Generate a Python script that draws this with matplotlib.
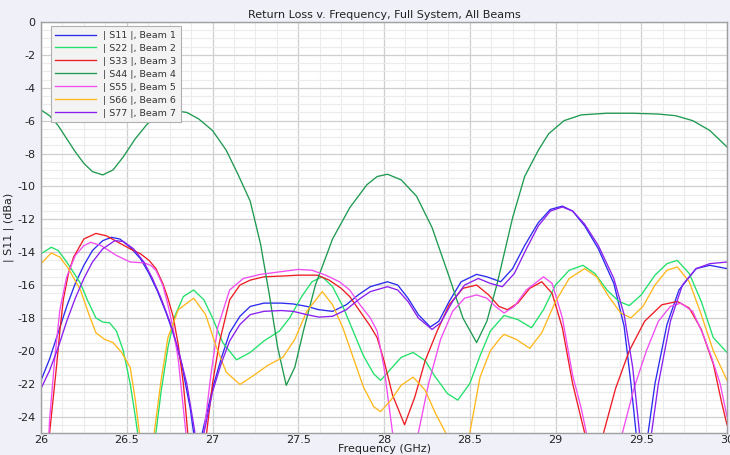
import matplotlib
matplotlib.use("Agg")
import matplotlib.pyplot as plt
from matplotlib.ticker import MultipleLocator

plt.rcParams["axes.unicode_minus"] = False

# |Snn| return loss per beam, frequency in GHz, level in dB
f_s11 = [26.00, 26.05, 26.10, 26.15, 26.20, 26.25, 26.30, 26.36, 26.41, 26.46, 26.52, 26.58, 26.63, 26.68,
         26.73, 26.77, 26.82, 26.87, 26.91, 26.94, 27.00, 27.05, 27.10, 27.16, 27.22, 27.30, 27.40, 27.47,
         27.55, 27.62, 27.70, 27.78, 27.85, 27.92, 28.02, 28.08, 28.14, 28.20, 28.27, 28.32, 28.38, 28.45,
         28.54, 28.60, 28.68, 28.75, 28.82, 28.90, 28.97, 29.04, 29.10, 29.17, 29.25, 29.34, 29.40, 29.44,
         29.47, 29.50, 29.54, 29.58, 29.65, 29.72, 29.82, 29.90, 30.00]
s11 = [-21.8, -20.5, -18.9, -17.3, -15.9, -14.8, -13.9, -13.3, -13.1, -13.2, -13.7, -14.4, -15.3, -16.4,
       -17.7, -18.9, -20.8, -23.5, -26.5, -25.0, -22.3, -20.5, -18.9, -17.9, -17.3, -17.1, -17.1, -17.15,
       -17.3, -17.5, -17.6, -17.2, -16.6, -16.1, -15.8, -16.0, -16.8, -17.8, -18.55, -18.2, -17.0, -15.8,
       -15.35, -15.5, -15.8, -15.0, -13.6, -12.2, -11.4, -11.2, -11.5, -12.4, -13.8, -15.9, -18.5, -22.0,
       -25.0, -26.5, -25.0, -22.0, -18.4, -16.3, -15.0, -14.8, -15.0]

f_s22 = [26.00, 26.06, 26.10, 26.15, 26.20, 26.23, 26.27, 26.32, 26.36, 26.40, 26.44, 26.48, 26.52, 26.55,
         26.57, 26.62, 26.67, 26.70, 26.74, 26.78, 26.83, 26.89, 26.95, 27.00, 27.06, 27.14, 27.22, 27.30,
         27.39, 27.45, 27.52, 27.58, 27.64, 27.70, 27.76, 27.82, 27.88, 27.94, 27.98, 28.04, 28.10, 28.17,
         28.24, 28.30, 28.37, 28.43, 28.50, 28.56, 28.62, 28.70, 28.78, 28.86, 28.93, 29.00, 29.08, 29.16,
         29.23, 29.30, 29.37, 29.43, 29.50, 29.58, 29.65, 29.71, 29.78, 29.85, 29.92, 30.00]
s22 = [-14.1, -13.7, -13.9, -14.6, -15.4, -15.9, -16.9, -18.0, -18.25, -18.3, -18.8, -20.0, -22.0, -24.0,
       -25.5, -27.0, -25.0, -22.5, -19.8, -17.9, -16.7, -16.3, -16.9, -18.0, -19.5, -20.55, -20.1, -19.4,
       -18.8, -18.0, -16.7, -15.8, -15.5, -16.1, -17.3, -18.8, -20.3, -21.4, -21.8, -21.1, -20.4, -20.1,
       -20.6, -21.6, -22.6, -23.0, -22.0, -20.3, -18.8, -17.85, -18.1, -18.6, -17.5, -16.0, -15.1, -14.8,
       -15.3, -16.3, -17.0, -17.25, -16.6, -15.4, -14.7, -14.5, -15.3, -17.0, -19.2, -20.1]

f_s33 = [26.00, 26.03, 26.05, 26.07, 26.09, 26.11, 26.13, 26.16, 26.19, 26.25, 26.32, 26.38, 26.45, 26.52,
         26.58, 26.63, 26.67, 26.71, 26.74, 26.77, 26.80, 26.83, 26.86, 26.91, 26.96, 27.00, 27.04, 27.10,
         27.16, 27.22, 27.30, 27.41, 27.50, 27.61, 27.68, 27.75, 27.80, 27.86, 27.92, 27.96, 28.00, 28.05,
         28.12, 28.18, 28.24, 28.31, 28.38, 28.46, 28.54, 28.61, 28.67, 28.72, 28.78, 28.85, 28.92, 28.98,
         29.04, 29.10, 29.17, 29.22, 29.28, 29.35, 29.43, 29.52, 29.62, 29.71, 29.78, 29.85, 29.92, 29.97,
         30.00]
s33 = [-30.0, -27.0, -25.0, -23.0, -21.0, -18.8, -16.9, -15.3, -14.3, -13.2, -12.86, -13.0, -13.4, -13.8,
       -14.1, -14.5, -15.0, -15.9, -16.8, -17.9, -19.6, -22.0, -25.5, -27.5, -25.5, -22.0, -19.5, -16.9,
       -16.0, -15.7, -15.5, -15.45, -15.4, -15.4, -15.7, -16.2, -16.7, -17.6, -18.5, -19.2, -20.6, -22.7,
       -24.5, -22.8, -20.6, -18.8, -17.2, -16.2, -16.0, -16.6, -17.3, -17.5, -17.1, -16.2, -15.8, -16.5,
       -18.6, -22.0, -25.0, -26.5, -25.0, -22.3, -20.0, -18.2, -17.2, -17.0, -17.4, -18.7, -20.8, -23.2,
       -24.5]

f_s44 = [26.00, 26.05, 26.10, 26.15, 26.20, 26.25, 26.30, 26.36, 26.42, 26.48, 26.55, 26.62, 26.70, 26.78,
         26.85, 26.92, 27.00, 27.08, 27.15, 27.22, 27.28, 27.33, 27.38, 27.43, 27.48, 27.53, 27.60, 27.70,
         27.80, 27.90, 27.96, 28.02, 28.10, 28.19, 28.28, 28.38, 28.46, 28.54, 28.60, 28.66, 28.75, 28.82,
         28.90, 28.96, 29.05, 29.15, 29.30, 29.45, 29.60, 29.70, 29.80, 29.90, 30.00]
s44 = [-5.35, -5.7, -6.3, -7.1, -7.9, -8.6, -9.1, -9.3, -9.0, -8.2, -7.1, -6.2, -5.6, -5.4,
       -5.5, -5.9, -6.6, -7.8, -9.3, -10.9, -13.5, -16.5, -19.8, -22.1, -21.0, -18.8, -16.0, -13.2,
       -11.3, -9.9, -9.4, -9.26, -9.6, -10.6, -12.5, -15.5, -18.0, -19.5, -18.2, -15.9, -11.9, -9.4,
       -7.8, -6.8, -6.0, -5.65, -5.55, -5.55, -5.6, -5.7, -6.0, -6.6, -7.6]

f_s55 = [26.00, 26.04, 26.05, 26.08, 26.11, 26.15, 26.20, 26.25, 26.29, 26.35, 26.44, 26.52, 26.60, 26.64,
         26.67, 26.71, 26.74, 26.77, 26.80, 26.83, 26.85, 26.90, 26.95, 26.99, 27.03, 27.10, 27.18, 27.28,
         27.39, 27.50, 27.58, 27.66, 27.74, 27.80, 27.86, 27.92, 27.96, 28.00, 28.05, 28.12, 28.20, 28.26,
         28.33, 28.40, 28.47, 28.54, 28.60, 28.65, 28.70, 28.76, 28.83, 28.93, 28.98, 29.04, 29.10, 29.15,
         29.18, 29.28, 29.39, 29.46, 29.53, 29.60, 29.67, 29.73, 29.80, 29.86, 29.91, 29.96, 30.00]
s55 = [-32.0, -26.5, -24.2, -20.5, -17.5, -15.5, -14.2, -13.6, -13.4, -13.6, -14.2, -14.6, -14.65, -14.8,
       -15.1, -16.0, -17.2, -18.6, -20.5, -23.5, -25.5, -28.0, -25.0, -21.5, -18.6, -16.3, -15.6, -15.35,
       -15.2, -15.05, -15.1, -15.4, -15.8, -16.3, -17.2, -18.0, -18.8, -21.0, -25.0, -28.0, -25.0, -22.0,
       -19.3, -17.6, -16.8, -16.6, -16.8, -17.3, -17.7, -17.3, -16.3, -15.5, -15.9, -18.0, -21.5, -23.5,
       -25.0, -28.0, -25.0, -22.2, -20.0, -18.2, -17.3, -17.1, -17.6, -19.0, -20.4, -22.0, -24.0]

f_s66 = [26.00, 26.06, 26.11, 26.16, 26.23, 26.28, 26.32, 26.37, 26.42, 26.47, 26.52, 26.55, 26.58, 26.62,
         26.66, 26.70, 26.74, 26.80, 26.89, 26.96, 27.02, 27.08, 27.16, 27.24, 27.32, 27.41, 27.48, 27.55,
         27.64, 27.70, 27.76, 27.82, 27.88, 27.94, 27.98, 28.04, 28.10, 28.17, 28.24, 28.30, 28.37, 28.43,
         28.50, 28.56, 28.62, 28.68, 28.70, 28.77, 28.85, 28.92, 29.00, 29.08, 29.17, 29.24, 29.31, 29.38,
         29.44, 29.51, 29.58, 29.65, 29.71, 29.78, 29.85, 29.92, 30.00]
s66 = [-14.7, -14.05, -14.3, -15.0, -16.3, -17.8, -18.9, -19.3, -19.5, -20.1, -21.0, -23.0, -25.5, -27.0,
       -25.0, -21.8, -19.2, -17.5, -16.8, -17.8, -19.7, -21.3, -22.05, -21.5, -20.9, -20.4, -19.3, -17.6,
       -16.4, -17.2, -18.6, -20.4, -22.2, -23.4, -23.7, -23.0, -22.1, -21.6, -22.4, -23.8, -25.2, -26.5,
       -25.0, -21.6, -20.0, -19.2, -19.0, -19.3, -19.85, -18.9, -17.0, -15.6, -15.0, -15.5, -16.7, -17.7,
       -18.0, -17.3, -16.0, -15.1, -14.9, -15.8, -17.8, -20.0, -21.8]

f_s77 = [26.00, 26.05, 26.10, 26.15, 26.20, 26.25, 26.30, 26.36, 26.43, 26.48, 26.54, 26.60, 26.65, 26.70,
         26.75, 26.80, 26.85, 26.89, 26.92, 26.96, 27.00, 27.05, 27.10, 27.16, 27.22, 27.30, 27.40, 27.47,
         27.55, 27.62, 27.70, 27.78, 27.85, 27.92, 28.02, 28.08, 28.14, 28.20, 28.28, 28.33, 28.40, 28.47,
         28.55, 28.62, 28.69, 28.76, 28.83, 28.90, 28.97, 29.04, 29.10, 29.17, 29.25, 29.34, 29.40, 29.45,
         29.49, 29.52, 29.56, 29.60, 29.67, 29.74, 29.82, 29.90, 30.00]
s77 = [-22.3, -21.2, -19.8, -18.2, -16.8, -15.6, -14.6, -13.8, -13.3, -13.35, -13.8, -14.6, -15.6, -16.8,
       -18.2, -19.9, -22.0, -24.5, -26.5, -24.5, -22.5, -20.8, -19.4, -18.4, -17.8, -17.6, -17.55, -17.6,
       -17.8, -17.95, -17.9, -17.5, -16.9, -16.4, -16.1, -16.3, -17.0, -18.0, -18.7, -18.3, -17.0, -16.0,
       -15.6, -15.9, -16.1, -15.3, -13.8, -12.4, -11.5, -11.25, -11.5, -12.3, -13.6, -15.6, -17.8, -21.0,
       -25.0, -26.5, -25.0, -22.0, -18.2, -16.0, -15.0, -14.7, -14.6]

labels = ["| S11 |, Beam 1", "| S22 |, Beam 2", "| S33 |, Beam 3", "| S44 |, Beam 4",
          "| S55 |, Beam 5", "| S66 |, Beam 6", "| S77 |, Beam 7"]
colors = ["#2b2bf0", "#22e06a", "#ee1c24", "#1e9a50", "#f04cf0", "#ffb81c", "#8a1ef0"]

fig = plt.figure(figsize=(7.3, 4.55), dpi=100, facecolor="#eff0f8")
ax = fig.add_axes([41 / 730, 22 / 455, 686 / 730, 411 / 455])
ax.set_facecolor("white")

series = [(f_s11, s11), (f_s22, s22), (f_s33, s33), (f_s44, s44),
          (f_s55, s55), (f_s66, s66), (f_s77, s77)]
for (f, s), lab, c in zip(series, labels, colors):
    ax.plot(f, s, color=c, lw=0.95, label=lab)

ax.set_xlim(26, 30)
ax.set_ylim(-25, 0)
ax.xaxis.set_major_locator(MultipleLocator(0.5))
ax.xaxis.set_minor_locator(MultipleLocator(0.125))
ax.yaxis.set_major_locator(MultipleLocator(2))
ax.yaxis.set_minor_locator(MultipleLocator(0.5))
ax.set_xticks([26, 26.5, 27, 27.5, 28, 28.5, 29, 29.5, 30])
ax.set_xticklabels(["26", "26.5", "27", "27.5", "28", "28.5", "29", "29.5", "30"])
ax.grid(which="major", color="#cfcfcf", lw=0.9)
ax.grid(which="minor", color="#ececec", lw=0.8)
ax.set_axisbelow(True)
ax.tick_params(which="both", length=0, labelsize=8, colors="#222222", pad=4)
ax.tick_params(axis="x", pad=1.5)
for sp in ax.spines.values():
    sp.set_color("#a0a0a0")
    sp.set_linewidth(1.0)

ax.set_title("Return Loss v. Frequency, Full System, All Beams", fontsize=8, color="#222222", pad=3)
ax.set_xlabel("Frequency (GHz)", fontsize=8, color="#222222", labelpad=-1)
ax.set_ylabel("| S11 | (dBa)", fontsize=8, color="#222222", labelpad=2)

leg = ax.legend(loc="upper left", bbox_to_anchor=(0.014, 0.99), fontsize=6.8, frameon=True,
                fancybox=False, handlelength=4.3, handletextpad=0.7, labelspacing=0.42,
                borderpad=0.5, borderaxespad=0)
leg.get_frame().set_facecolor("#f3f3f3")
leg.get_frame().set_edgecolor("#b0b0b0")
leg.get_frame().set_alpha(1)
leg.get_frame().set_linewidth(0.8)
for t in leg.get_texts():
    t.set_color("#333333")

fig.savefig("out.png", dpi=100, facecolor=fig.get_facecolor())
